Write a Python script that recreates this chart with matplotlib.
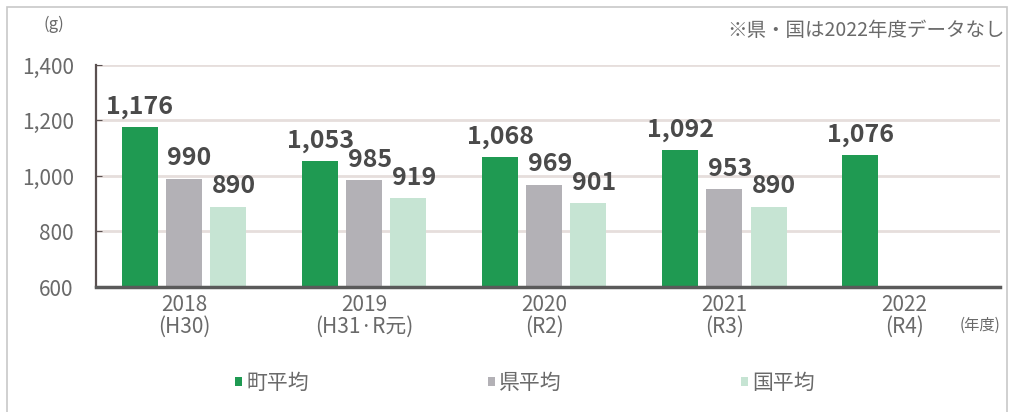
import numpy as np
import matplotlib.pyplot as plt
from matplotlib.patches import Rectangle

plt.rcParams['font.family'] = ['Noto Sans CJK JP', 'DejaVu Sans']

years = ['2018\n(H30)', '2019\n(H31·R元)', '2020\n(R2)', '2021\n(R3)', '2022\n(R4)']
town = [1176, 1053, 1068, 1092, 1076]
pref = [990, 985, 969, 953, None]
nation = [890, 919, 901, 890, None]
series_names = ['町平均', '県平均', '国平均']
colors = ['#1f9a52', '#b3b1b6', '#c6e4d3']

fig = plt.figure(figsize=(10.14, 4.12), dpi=100)
fig.patches.append(Rectangle((7 / 1014, -0.05), 1000 / 1014, 1.05 - 7 / 412,
                             transform=fig.transFigure, fill=False,
                             edgecolor='#c8c8c8', linewidth=1.2))
ax = fig.add_axes([96 / 1014, 1 - 287 / 412, 904 / 1014, 222 / 412])

x = np.arange(len(years))
w = 0.2
step = 0.245
text_c = '#4a4a4a'
for i, (vals, col, name) in enumerate(zip([town, pref, nation], colors, series_names)):
    xs = [xi + (i - 1) * step for xi, v in zip(x, vals) if v is not None]
    vs = [v for v in vals if v is not None]
    ax.bar(xs, [v - 600 for v in vs], w, bottom=600, color=col, label=name, zorder=3)
    for xx, v in zip(xs, vs):
        # pref / nation labels sit a little to the right in the original
        dx = 0.0 if i == 0 else 0.03
        ax.text(xx + dx, v + 30, f'{v:,}', ha='center', va='bottom', fontsize=18,
                fontweight='bold', color=text_c, zorder=4)

ax.set_ylim(600, 1400)
ax.set_xlim(-0.489, 4.53)
ax.set_yticks([600, 800, 1000, 1200, 1400])
ax.set_yticklabels([f'{t:,}' for t in [600, 800, 1000, 1200, 1400]], fontsize=15, color='#6a6a6a')
ax.set_xticks(x)
ax.set_xticklabels(years, fontsize=15, color='#6a6a6a', linespacing=1.0)
ax.tick_params(axis='x', length=0, pad=5)
ax.tick_params(axis='y', direction='in', length=4, color='#5a5050', pad=16)
ax.grid(axis='y', color='#e6dedc', linewidth=2, zorder=0)
for s in ['top', 'right']:
    ax.spines[s].set_visible(False)
ax.spines['left'].set_color('#5a5050')
ax.spines['left'].set_linewidth(1.6)
ax.spines['bottom'].set_color('#5a5a5a')
ax.spines['bottom'].set_linewidth(2.5)
ax.spines['bottom'].set_zorder(5)

fig.text(54 / 1014, 1 - 24 / 412, '(g)', fontsize=12, color='#6a6a6a', ha='center', va='center')
fig.text(1005 / 1014, 1 - 31 / 412, '※県・国は2022年度データなし', fontsize=14,
         color='#6a6a6a', ha='right', va='center')
fig.text(980 / 1014, 1 - 325 / 412, '(年度)', fontsize=11, color='#6a6a6a', ha='center', va='center')

leg = ax.legend(loc='center', bbox_to_anchor=(525 / 1014, 1 - 383 / 412), bbox_transform=fig.transFigure,
                ncol=3, frameon=False, fontsize=15, handlelength=0.35, handleheight=0.35,
                handletextpad=0.2, columnspacing=8.6)
for t in leg.get_texts():
    t.set_color('#6a6a6a')

fig.savefig('out.png', dpi=100)
